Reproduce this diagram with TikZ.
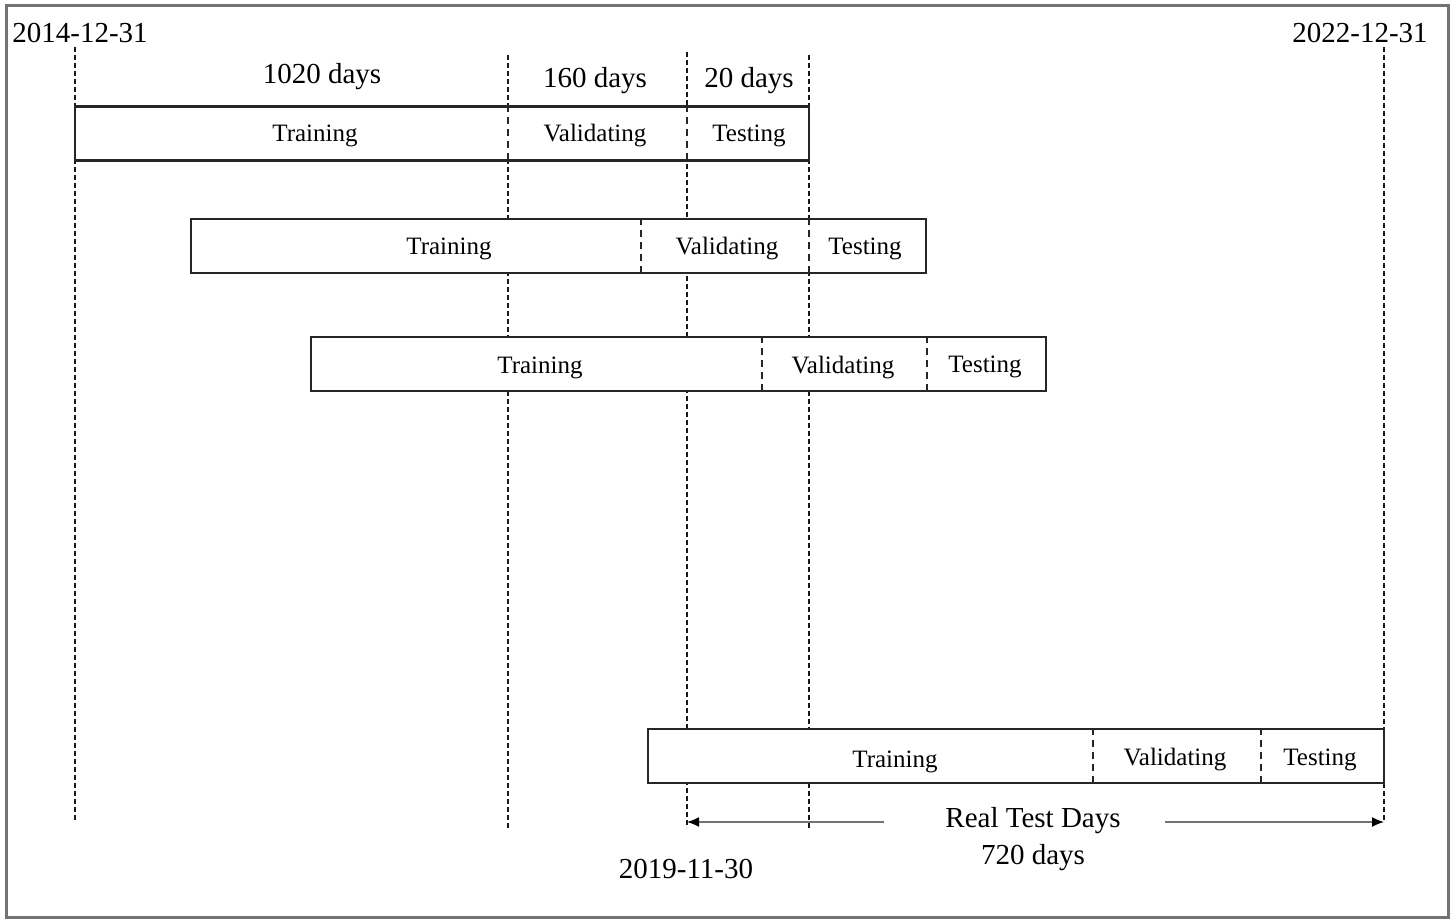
\documentclass[tikz,border=0pt]{standalone}
\usepackage{fontspec}
\setmainfont{Liberation Serif}
\usetikzlibrary{arrows.meta}
\begin{document}
\begin{tikzpicture}[x=1pt,y=-1pt,
  guide/.style={draw=black!90, line width=1.7pt, dash pattern=on 5pt off 3pt},
  split/.style={draw=black!85, line width=1.5pt, dash pattern=on 7pt off 5pt},
  seg/.style={draw=black!85, fill=white, line width=2.2pt, minimum height=54pt, inner sep=0pt},
  lab/.style={font=\fontsize{25}{30}\selectfont, text=black},
  big/.style={font=\fontsize{29}{34}\selectfont, text=black},
  span/.style={draw=black!55, line width=1.4pt, -{Latex[length=12pt,width=10pt,color=black]}}]
\useasboundingbox (0,0) rectangle (1455,920);
\draw[black!55, line width=3pt] (6,6) rectangle (1448,917);

% vertical guides
\coordinate (g1t) at (75,47);   \coordinate (g1b) at (75,820);
\coordinate (g2t) at (508,55);  \coordinate (g2b) at (508,830);
\coordinate (g3t) at (687,52);  \coordinate (g3b) at (687,828);
\coordinate (g4t) at (809,55);  \coordinate (g4b) at (809,828);
\coordinate (g5t) at (1384,47); \coordinate (g5b) at (1384,822);
\foreach \g in {1,...,5} \draw[guide] (g\g t) -- (g\g b);

% rolling windows
\node[seg, minimum width=734pt] (w1) at (442,133.5) {};
\node[seg, minimum width=735pt] (w2) at (558.5,246) {};
\node[seg, minimum width=735pt] (w3) at (678.5,364) {};
\node[seg, minimum width=736pt] (w4) at (1016,756) {};

\draw[split] (w1.north -| 508,0) -- (w1.south -| 508,0);
\draw[split] (w1.north -| 687,0) -- (w1.south -| 687,0);
\draw[split] (w2.north -| 641,0) -- (w2.south -| 641,0);
\draw[split] (w2.north -| 809,0) -- (w2.south -| 809,0);
\draw[split] (w3.north -| 762,0) -- (w3.south -| 762,0);
\draw[split] (w3.north -| 927,0) -- (w3.south -| 927,0);
\draw[split] (w4.north -| 1093,0) -- (w4.south -| 1093,0);
\draw[split] (w4.north -| 1261,0) -- (w4.south -| 1261,0);

\node[lab] (t1) at (315,136) {Training};
\node[lab] (v1) at (595,136) {Validating};
\node[lab] (s1) at (749,136) {Testing};
\node[lab] (t2) at (449,249) {Training};
\node[lab] (v2) at (727,249) {Validating};
\node[lab] (s2) at (865,249) {Testing};
\node[lab] (t3) at (540,368) {Training};
\node[lab] (v3) at (843,368) {Validating};
\node[lab] (s3) at (985,367) {Testing};
\node[lab] (t4) at (895,762) {Training};
\node[lab] (v4) at (1175,760) {Validating};
\node[lab] (s4) at (1320,760) {Testing};

% dates and spans
\node[big] (d0) at (80,33) {2014-12-31};
\node[big] (d1) at (1360,33) {2022-12-31};
\node[big] (n1) at (322,77) {1020 days};
\node[big] (n2) at (595,81) {160 days};
\node[big] (n3) at (749,81) {20 days};
\node[big] (rt) at (1033,821) {Real Test Days};
\node[big] (rd) at (1033,858) {720 days};
\node[big] (d2) at (686,869) {2019-11-30};

\coordinate (al) at (884,822);
\coordinate (ar) at (1165,822);
\draw[span] (al) -- (g3b |- al);
\draw[span] (ar) -- (g5b |- ar);
\end{tikzpicture}
\end{document}
